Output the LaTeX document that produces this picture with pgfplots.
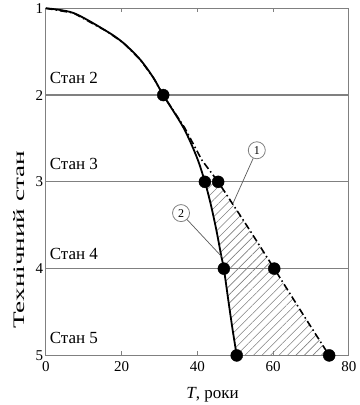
\documentclass[border=0pt]{standalone}
\usepackage{fontspec}
\setmainfont{Liberation Serif}
\usepackage{graphicx}
\usepackage{pgfplots}
\pgfplotsset{compat=1.18}
\usepgfplotslibrary{fillbetween}
\usetikzlibrary{patterns.meta}
\definecolor{axgray}{RGB}{128,128,128}
\begin{document}
\begin{tikzpicture}
\begin{axis}[
  width=303pt, height=347pt, scale only axis,
  xmin=0, xmax=80, ymin=1, ymax=5, y dir=reverse,
  xtick={0,20,40,60,80}, ytick={1,2,3,4,5},
  xtick pos=both, ytick pos=left, tick align=inside,
  major tick length=4pt,
  axis line style={draw=axgray, line width=1.2pt},
  every tick/.style={axgray, line width=0.8pt},
  ymajorgrids, grid style={axgray, line width=1.2pt},
  /pgf/number format/assume math mode=true,
  tick label style={font=\fontsize{15}{18}\selectfont},
  xticklabel style={yshift=-3pt},
  yticklabel style={xshift=1pt},
  xlabel={\textit{T}, роки},
  xlabel style={at={(axis description cs:0.55,-0.112)}, anchor=center, font=\fontsize{17}{20}\selectfont},
  ylabel={\scalebox{1.7}[1]{Технічний стан}},
  ylabel style={at={(axis description cs:-0.088,0.333)}, anchor=center, font=\fontsize{16}{19}\selectfont},
  clip=false,
]
% solid curve
\addplot[name path=solid, black, line width=1.8pt, smooth, tension=0.5] coordinates {
 (0,1) (7.3,1.054) (16.1,1.265) (20.5,1.40) (24.9,1.59) (28.4,1.80) (31,2) (36.4,2.38) (39.9,2.72) (42,3) (43.5,3.25) (45,3.55) (46.3,3.85) (47,4) (48.2,4.37) (49.3,4.7) (50.4,5)
};
% dash-dot curve
\addplot[name path=dash, black, line width=1.6pt, dash pattern=on 7pt off 3pt on 1.5pt off 3pt] coordinates {
 (0,1) (7.3,1.054) (16.1,1.265) (20.5,1.40) (24.9,1.59) (28.4,1.80) (31,2) (36.7,2.38) (41.2,2.75) (45.5,3) (53,3.5) (60.3,4) (67.5,4.5) (74.8,5)
};
\addplot[draw=none, pattern={Lines[angle=45, distance=6pt, line width=0.6pt]}, pattern color=axgray]
  fill between[of=solid and dash, soft clip={domain y=3:5}];
% points
\addplot[only marks, mark=*, mark size=6pt, black] coordinates {
 (31,2) (42,3) (45.5,3) (47,4) (60.3,4) (50.4,5) (74.8,5)
};
% state labels
\node[anchor=west, font=\fontsize{17}{20}\selectfont, inner sep=0pt] at (axis cs:1,1.8) {Стан 2};
\node[anchor=west, font=\fontsize{17}{20}\selectfont, inner sep=0pt] at (axis cs:1,2.79) {Стан 3};
\node[anchor=west, font=\fontsize{17}{20}\selectfont, inner sep=0pt] at (axis cs:1,3.83) {Стан 4};
\node[anchor=west, font=\fontsize{17}{20}\selectfont, inner sep=0pt] at (axis cs:1,4.8) {Стан 5};
\node[circle, draw=axgray, line width=0.8pt, inner sep=0.5pt, minimum size=17pt, font=\fontsize{12}{13}\selectfont] (c1) at (axis cs:55.7,2.636) {1};
\node[circle, draw=axgray, line width=0.8pt, inner sep=0.5pt, minimum size=17pt, font=\fontsize{12}{13}\selectfont] (c2) at (axis cs:35.7,3.36) {2};
\draw[axgray!70!black, line width=0.7pt] (c1) -- (axis cs:49.5,3.24);
\draw[axgray!70!black, line width=0.7pt] (c2) -- (axis cs:46.4,3.86);
\path (axis description cs:-0.151,0);
\end{axis}
\end{tikzpicture}
\end{document}
